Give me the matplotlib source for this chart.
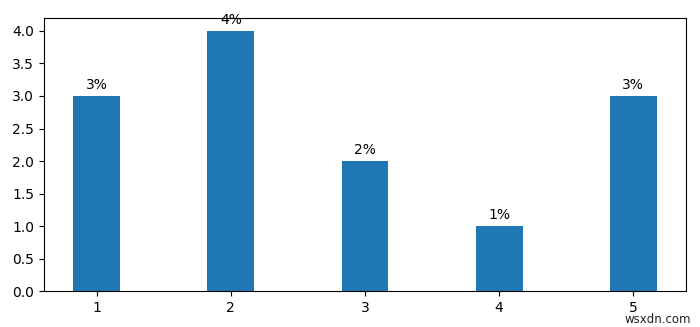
import matplotlib
matplotlib.use("Agg")
import matplotlib.pyplot as plt

# Bar data
x = [1, 2, 3, 4, 5]
y = [3, 4, 2, 1, 3]
labels = ["3%", "4%", "2%", "1%", "3%"]

fig = plt.figure(figsize=(7, 3.27), dpi=100)
ax = fig.add_axes([0.0629, 0.110, 0.917, 0.835])

bars = ax.bar(x, y, width=0.35)

# Percent labels above each bar
for bar, lab in zip(bars, labels):
    h = bar.get_height()
    ax.annotate(lab, xy=(bar.get_x() + bar.get_width() / 2, h),
                xytext=(0, 3), textcoords="offset points",
                ha="center", va="bottom")

# site watermark
fig.text(0.939, 0.022, "wsxdn.com", ha="center", va="center",
         fontsize=8.5, color="#222222")

fig.savefig("out.png", dpi=100)
